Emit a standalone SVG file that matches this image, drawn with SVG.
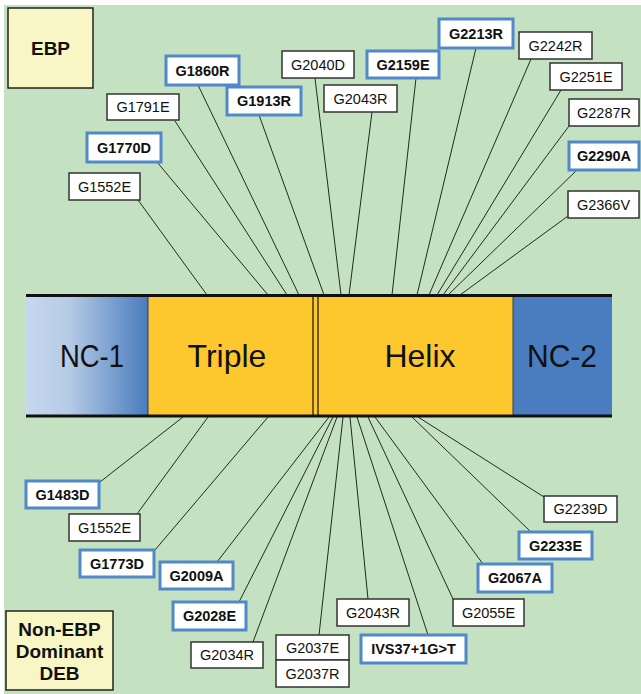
<svg xmlns="http://www.w3.org/2000/svg" width="641" height="694" viewBox="0 0 641 694">
<defs>
<linearGradient id="nc1" x1="0" y1="0" x2="1" y2="0">
<stop offset="0" stop-color="#c6d8ee"/>
<stop offset="0.35" stop-color="#b6cbe6"/>
<stop offset="1" stop-color="#4a7cbd"/>
</linearGradient>
<style>
.w rect{fill:#fff;stroke:#333;stroke-width:1.5}
.b rect{fill:#fff;stroke:#5088c8;stroke-width:3}
.w text{font-family:"Liberation Sans",Arial,sans-serif;font-size:14.5px;fill:#111;text-anchor:middle}
.b text{font-family:"Liberation Sans",Arial,sans-serif;font-size:14.5px;font-weight:bold;fill:#111;text-anchor:middle}
.big{font-family:"Liberation Sans",Arial,sans-serif;font-size:32px;fill:#111;text-anchor:middle}
.leg rect{fill:#f9f6c6;stroke:#222;stroke-width:1.5}
.leg text{font-family:"Liberation Sans",Arial,sans-serif;font-size:19px;font-weight:bold;fill:#111;text-anchor:middle}
#connectors line{stroke:#1e2b1e;stroke-width:1}
</style>
</defs>
<rect x="0" y="0" width="641" height="694" fill="#ffffff"/>
<rect x="4" y="5" width="637" height="689" fill="#c4e2c2"/>

<g id="connectors">
<line x1="138" y1="200" x2="207" y2="295"/>
<line x1="157" y1="162" x2="268" y2="295"/>
<line x1="175" y1="121" x2="287" y2="295"/>
<line x1="198" y1="85" x2="299" y2="295"/>
<line x1="259" y1="115" x2="324" y2="295"/>
<line x1="315" y1="78" x2="341" y2="295"/>
<line x1="372" y1="112" x2="349" y2="295"/>
<line x1="416" y1="78" x2="392" y2="295"/>
<line x1="476" y1="48" x2="417" y2="295"/>
<line x1="531" y1="59" x2="429" y2="295"/>
<line x1="561" y1="90" x2="437" y2="295"/>
<line x1="569" y1="126" x2="443" y2="295"/>
<line x1="577" y1="170" x2="448" y2="295"/>
<line x1="568" y1="216" x2="460" y2="295"/>

<line x1="100" y1="482" x2="183" y2="417"/>
<line x1="137" y1="514" x2="208" y2="417"/>
<line x1="155" y1="550" x2="268" y2="417"/>
<line x1="217" y1="562" x2="329" y2="417"/>
<line x1="239" y1="602" x2="333" y2="417"/>
<line x1="253" y1="642" x2="337" y2="417"/>
<line x1="319" y1="635" x2="343" y2="417"/>
<line x1="368" y1="599" x2="350" y2="417"/>
<line x1="428" y1="635" x2="357" y2="417"/>
<line x1="453" y1="599" x2="368" y2="417"/>
<line x1="483" y1="564" x2="375" y2="417"/>
<line x1="531" y1="532" x2="412" y2="417"/>
<line x1="544" y1="497" x2="418" y2="417"/>
</g>

<g id="bar">
<rect x="26" y="295" width="122" height="121" fill="url(#nc1)"/>
<rect x="148" y="295" width="365" height="121" fill="#fdc82e"/>
<rect x="513" y="295" width="99" height="121" fill="#4a7dbf"/>
<line x1="148" y1="296" x2="148" y2="416" stroke="#2a3d6a" stroke-width="1"/>
<line x1="513" y1="296" x2="513" y2="416" stroke="#2a3d6a" stroke-width="1"/>
<line x1="313" y1="296" x2="313" y2="416" stroke="#111" stroke-width="1.2"/>
<line x1="318" y1="296" x2="318" y2="416" stroke="#111" stroke-width="1.2"/>
<line x1="26" y1="295.5" x2="612" y2="295.5" stroke="#111" stroke-width="3"/>
<line x1="26" y1="416" x2="612" y2="416" stroke="#111" stroke-width="3"/>
<text class="big" x="92" y="367" textLength="64" lengthAdjust="spacingAndGlyphs">NC-1</text>
<text class="big" x="227" y="367">Triple</text>
<text class="big" x="420" y="367">Helix</text>
<text class="big" x="562" y="367" textLength="70" lengthAdjust="spacingAndGlyphs">NC-2</text>
</g>

<g id="legend-ebp" class="leg">
<rect x="8" y="8" width="85" height="80"/>
<text x="50.5" y="55">EBP</text>
</g>
<g id="legend-nonebp" class="leg">
<rect x="6" y="611" width="107" height="79"/>
<text x="59.5" y="636">Non-EBP</text>
<text x="59.5" y="658">Dominant</text>
<text x="59.5" y="680">DEB</text>
</g>

<g id="G1552E-top" class="w"><rect x="69" y="173" width="71" height="27"/><text x="104.5" y="191.5">G1552E</text></g>
<g id="G1770D" class="b"><rect x="87" y="133" width="74" height="29"/><text x="124" y="152.5">G1770D</text></g>
<g id="G1791E" class="w"><rect x="107" y="94" width="72" height="26"/><text x="143" y="112">G1791E</text></g>
<g id="G1860R" class="b"><rect x="166" y="56" width="73" height="29"/><text x="202.5" y="75.5">G1860R</text></g>
<g id="G1913R" class="b"><rect x="227" y="87" width="74" height="28"/><text x="264" y="106">G1913R</text></g>
<g id="G2040D" class="w"><rect x="282" y="51" width="72" height="27"/><text x="318" y="69.5">G2040D</text></g>
<g id="G2043R-top" class="w"><rect x="324" y="85" width="73" height="27"/><text x="360.5" y="103.5">G2043R</text></g>
<g id="G2159E" class="b"><rect x="367" y="51" width="72" height="27"/><text x="403" y="69.5">G2159E</text></g>
<g id="G2213R" class="b"><rect x="439" y="19" width="74" height="29"/><text x="476" y="38.5">G2213R</text></g>
<g id="G2242R" class="w"><rect x="519" y="32" width="73" height="27"/><text x="555.5" y="50.5">G2242R</text></g>
<g id="G2251E" class="w"><rect x="550" y="63" width="72" height="27"/><text x="586" y="81.5">G2251E</text></g>
<g id="G2287R" class="w"><rect x="569" y="99" width="70" height="27"/><text x="604" y="117.5">G2287R</text></g>
<g id="G2290A" class="b"><rect x="569" y="142" width="70" height="28"/><text x="604" y="161">G2290A</text></g>
<g id="G2366V" class="w"><rect x="568" y="191" width="71" height="27"/><text x="603.5" y="209.5">G2366V</text></g>

<g id="G1483D" class="b"><rect x="26" y="481" width="73" height="27"/><text x="62.5" y="499.5">G1483D</text></g>
<g id="G1552E-bottom" class="w"><rect x="69" y="514" width="71" height="27"/><text x="104.5" y="532.5">G1552E</text></g>
<g id="G1773D" class="b"><rect x="80" y="550" width="74" height="27"/><text x="117" y="568.5">G1773D</text></g>
<g id="G2009A" class="b"><rect x="160" y="562" width="73" height="27"/><text x="196.5" y="580.5">G2009A</text></g>
<g id="G2028E" class="b"><rect x="173" y="602" width="73" height="28"/><text x="209.5" y="621">G2028E</text></g>
<g id="G2034R" class="w"><rect x="191" y="642" width="72" height="26"/><text x="227" y="660">G2034R</text></g>
<g id="G2037" class="w"><rect x="276" y="635" width="73" height="25"/><text x="312.5" y="652.5">G2037E</text><rect x="276" y="660" width="73" height="27"/><text x="312.5" y="678.5">G2037R</text></g>
<g id="G2043R-bottom" class="w"><rect x="337" y="599" width="72" height="27"/><text x="373" y="617.5">G2043R</text></g>
<g id="IVS37" class="b"><rect x="361" y="635" width="105" height="28"/><text x="413.5" y="654">IVS37+1G&gt;T</text></g>
<g id="G2055E" class="w"><rect x="453" y="599" width="71" height="27"/><text x="488.5" y="617.5">G2055E</text></g>
<g id="G2067A" class="b"><rect x="478" y="564" width="74" height="28"/><text x="515" y="583">G2067A</text></g>
<g id="G2233E" class="b"><rect x="519" y="532" width="73" height="27"/><text x="555.5" y="550.5">G2233E</text></g>
<g id="G2239D" class="w"><rect x="544" y="496" width="73" height="26"/><text x="580.5" y="514">G2239D</text></g>
</svg>
